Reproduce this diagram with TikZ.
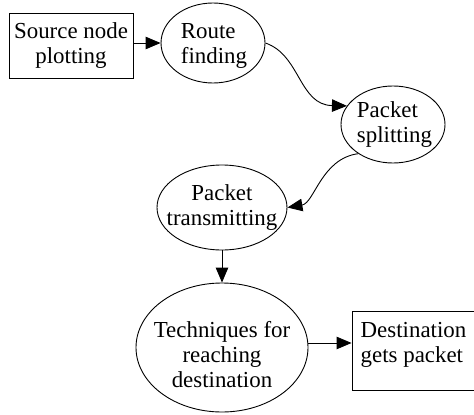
\documentclass[tikz,border=0pt]{standalone}
\usepackage{fontspec}
\setmainfont{Liberation Serif}
\usetikzlibrary{shapes.geometric,arrows.meta}
\newcommand{\diafont}{\fontsize{22.9}{25}\selectfont}
\tikzset{
  el/.style={draw, ellipse, inner sep=0pt, line width=0.9pt},
  bx/.style={draw, rectangle, inner sep=0pt, line width=0.9pt},
  lbl/.style={inner sep=0pt, font=\diafont},
  arr/.style={line width=0.9pt, -{Triangle[length=15pt,width=12.5pt]}}
}
\begin{document}
\begin{tikzpicture}[x=1pt,y=-1pt]
\useasboundingbox (0,0) rectangle (474,415);
% shapes
\node[bx, minimum width=124pt, minimum height=65pt] (src) at (71,45.5) {};
\node[el, minimum width=104pt, minimum height=80pt] (route) at (213,43) {};
\node[el, minimum width=104pt, minimum height=77pt] (split) at (393,124.5) {};
\node[el, minimum width=130pt, minimum height=85pt] (trans) at (222,207.5) {};
\node[el, minimum width=172pt, minimum height=129pt] (tech) at (222,347.5) {};
\node[bx, minimum width=126pt, minimum height=79pt] (dest) at (415,350.5) {};
% texts
\node[lbl, align=center] (srct) at (71,45.5) {Source node\\plotting};
\node[lbl, align=left] (routet) at (214,45.5) {Route\\finding};
\node[lbl, align=left] (splitt) at (394.5,125) {Packet\\splitting};
\node[lbl, align=center] (transt) at (222,208) {Packet\\transmitting};
\node[lbl, align=center] (techt) at (222,355) {Techniques for\\reaching\\destination};
\node[lbl, align=left] (destt) at (413.5,345) {Destination\\gets packet};
% connectors
\draw[arr] (src.east |- route.west) -- (route.west);
\draw[arr] (route.east) .. controls +(35,12) and +(-48,-1) .. (split.158);
\draw[arr] (split.220) .. controls +(-37,5) and +(27,-4.5) .. (trans.east);
\draw[arr] (trans.south) -- (tech.north);
\draw[arr] (tech.3) -- (tech.3 -| dest.west);
\end{tikzpicture}
\end{document}
